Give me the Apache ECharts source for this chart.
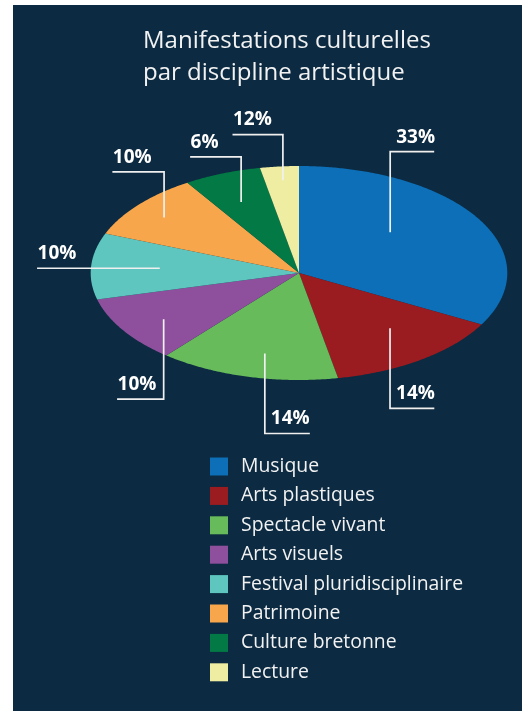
<!DOCTYPE html>
<html>
<head>
<meta charset="utf-8">
<script src="https://cdn.jsdelivr.net/npm/echarts@6/dist/echarts.min.js"></script>
<style>
html,body{margin:0;padding:0;background:#ffffff;}
#chart{width:522px;height:711px;}
</style>
</head>
<body>
<div id="chart"></div>
<script>
// ---- data ----
var categories = ['Musique','Arts plastiques','Spectacle vivant','Arts visuels','Festival pluridisciplinaire','Patrimoine','Culture bretonne','Lecture'];
var values = [33, 14, 14, 10, 10, 10, 6, 3];
var labelTexts = ['33%','14%','14%','10%','10%','10%','6%','12%'];
var colors = ['#0c6fb7','#9b1c20','#67bb5a','#8e509c','#5ec6be','#f7a64c','#037a45','#eeeda1'];

// ---- layout (styling) ----
var pieCx = 299, pieCy = 273, pieRx = 208.3, pieRy = 107;
// [anchor radius fraction, angle shift (deg), vertical length, horizontal length]
var leaderLayout = [
  [0.58, -10.4, -80.6, 44],
  [0.677, -4.2, 80, 44.3],
  [0.77, -2.1, 80, 45],
  [0.78, -1.2, 80, -46.6],
  [0.67, 0.2, 0, -122.7],
  [0.83, -0.9, -45.6, -51.7],
  [0.72, -1.1, -45, -51],
  [0.87, 0.3, -45.7, -50.4]
];
var FONT = '"Open Sans", "Liberation Sans", sans-serif';

var total = values.reduce(function(a,b){return a+b;},0);
function pt(deg, f){
  var r = deg*Math.PI/180;
  return [pieCx + pieRx*f*Math.sin(r), pieCy - pieRy*f*Math.cos(r)];
}

function makeRender(i){
  return function(params, api){
    var before = 0;
    for (var k=0;k<i;k++) before += values[k];
    var v = api.value(0);
    var a0 = before/total*360, a1 = (before+v)/total*360;
    var pts = [[pieCx,pieCy]];
    var steps = Math.max(2, Math.ceil((a1-a0)/0.5));
    for (var s=0;s<=steps;s++){
      pts.push(pt(a0+(a1-a0)*s/steps, 1));
    }
    var L = leaderLayout[i];
    var mid = (a0+a1)/2 + L[1];
    var p0 = pt(mid, L[0]);
    var p1 = [p0[0], p0[1]+L[2]];
    var p2 = [p1[0]+L[3], p1[1]];
    var tx = L[3] > 0 ? p1[0]+6 : p2[0]+0.5;
    return {
      type:'group',
      children:[
        {type:'polygon', shape:{points:pts}, style:{fill:api.visual('color'), stroke:null}, z2:0},
        {type:'polyline', shape:{points:[p0,p1,p2]}, style:{stroke:'#f0f0f0', lineWidth:1.7, fill:null}, z2:20},
        {type:'text', x:tx, y:p1[1]-14.5, style:{text:labelTexts[i], fill:'#ffffff', font:'bold 19px '+FONT, align:'left', verticalAlign:'middle'}, z2:21}
      ]
    };
  };
}

var series = categories.map(function(name, i){
  return {
    type:'custom', name:name, coordinateSystem:'none',
    data:[[values[i]]],
    itemStyle:{color:colors[i]},
    renderItem:makeRender(i),
    silent:true, animation:false
  };
});

var chart = echarts.init(document.getElementById('chart'));
chart.setOption({
  backgroundColor:'#ffffff',
  animation:false,
  graphic:[{type:'rect', z:-10, shape:{x:13,y:5,width:509,height:706}, style:{fill:'#0c2a41'}}],
  title:{
    text:'Manifestations culturelles\npar discipline artistique',
    left:143, top:25, padding:0,
    textStyle:{color:'#f2f2f2', fontSize:24, fontWeight:'normal', fontFamily:FONT, lineHeight:32.4}
  },
  legend:{
    orient:'vertical', left:210, top:457, padding:0,
    itemWidth:18, itemHeight:18, itemGap:10.4, icon:'rect',
    data:categories,
    selectedMode:false,
    textStyle:{color:'#f2f2f2', fontSize:19.4, lineHeight:18, fontFamily:FONT, padding:[0,0,0,8]}
  },
  series:series
});
</script>
</body>
</html>
